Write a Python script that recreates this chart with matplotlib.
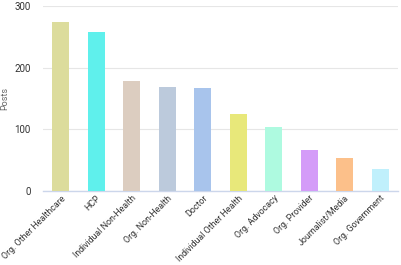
import matplotlib
matplotlib.use("Agg")
import matplotlib.pyplot as plt

categories = ["Org. Other Healthcare", "HCP", "Individual Non-Health", "Org. Non-Health",
              "Doctor", "Individual Other Health", "Org. Advocacy", "Org. Provider",
              "Journalist/Media", "Org. Government"]
values = [274, 258, 178, 169, 167, 125, 103, 67, 54, 35]
colors = ["#dcdc9c", "#5ff0ec", "#dccdc0", "#bccadc", "#a8c4ec",
          "#e8e87a", "#aefae0", "#d49cf8", "#fcc08a", "#c0f0fc"]
yticks = [0, 100, 200, 300]

plt.rcParams['font.family'] = ['Roboto', 'DejaVu Sans']
fig = plt.figure(figsize=(4.01, 2.65), dpi=100)
ax = fig.add_axes([43/401, (265-191)/265, 355/401, 185/265])
x = range(len(categories))
ax.bar(x, values, width=0.48, color=colors, zorder=3)
ax.set_xlim(-0.5, len(categories) - 0.5)
ax.set_ylim(0, 300)
ax.set_yticks(yticks)
ax.grid(axis='y', color='#e6e6e6', linewidth=0.8, zorder=0)
for s in ['top', 'right', 'left']:
    ax.spines[s].set_visible(False)
ax.spines['bottom'].set_color('#ccd6eb')
ax.spines['bottom'].set_linewidth(1)
ax.tick_params(axis='both', length=0, labelsize=7, colors='#333333')
ax.tick_params(axis='y', pad=9)
ax.tick_params(axis='x', pad=2)
ax.set_xticks(list(x))
ax.set_xticklabels(categories, rotation=45, ha='right', rotation_mode='anchor', fontsize=6.4, color='#333333')
ax.set_ylabel("Posts", fontsize=6.5, color='#666666')
ax.yaxis.set_label_coords(-0.095, 0.5)
fig.savefig("out.png", dpi=100)
